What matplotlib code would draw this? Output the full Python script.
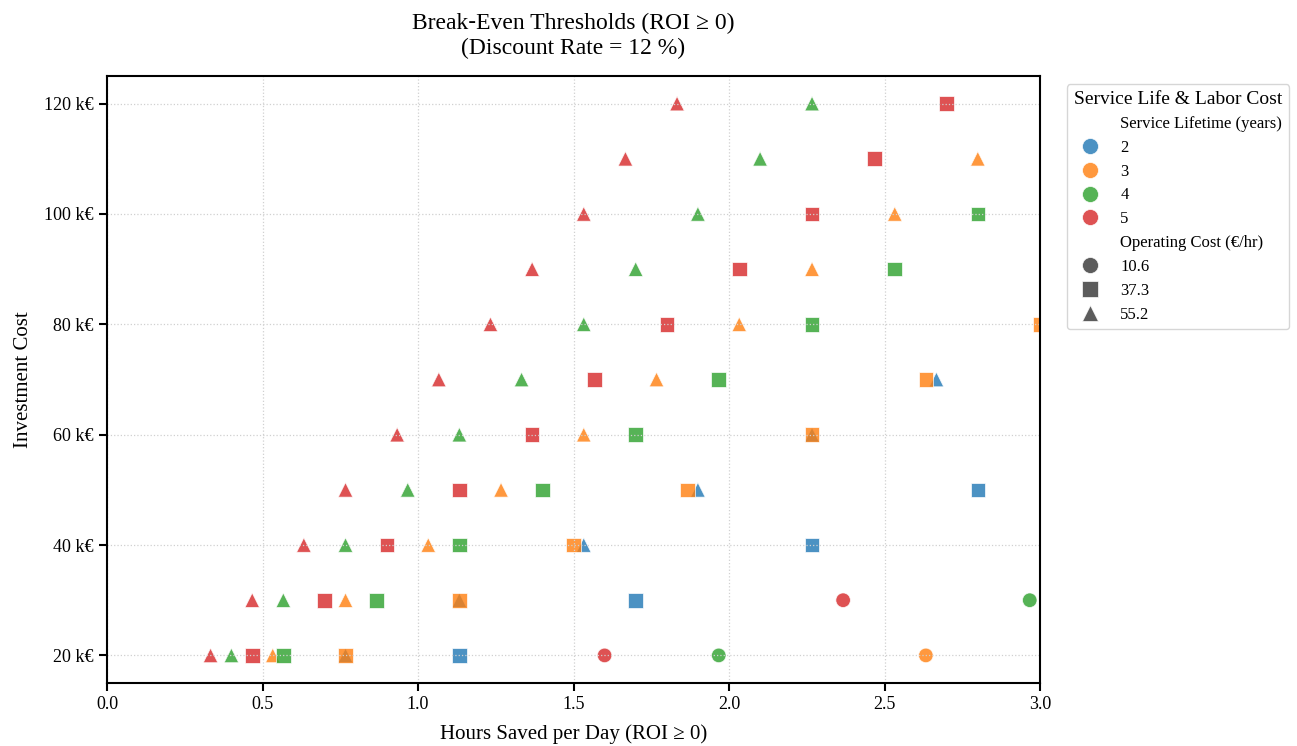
import matplotlib
matplotlib.use("Agg")
import matplotlib.pyplot as plt
import seaborn as sns
import pandas as pd

# ---- data ----
investments = [20, 30, 40, 50, 60, 70, 80, 90, 100, 110, 120]  # k€
lifetimes = [2, 3, 4, 5]
op_costs = [10.6, 37.3, 55.2]

# break-even hours per day, for each (lifetime, cost) pair, aligned with investments
# (None = beyond the plotted range)
hours = {
    (2, 10.6): [None] * 11,
    (2, 37.3): [1.133, 1.700, 2.267, 2.800, None, None, None, None, None, None, None],
    (2, 55.2): [0.767, 1.133, 1.533, 1.900, 2.267, 2.667, None, None, None, None, None],
    (3, 10.6): [2.633, None, None, None, None, None, None, None, None, None, None],
    (3, 37.3): [0.767, 1.133, 1.500, 1.867, 2.267, 2.633, 3.000, None, None, None, None],
    (3, 55.2): [0.533, 0.767, 1.033, 1.267, 1.533, 1.767, 2.033, 2.267, 2.533, 2.800, None],
    (4, 10.6): [1.967, 2.967, None, None, None, None, None, None, None, None, None],
    (4, 37.3): [0.567, 0.867, 1.133, 1.400, 1.700, 1.967, 2.267, 2.533, 2.800, None, None],
    (4, 55.2): [0.400, 0.567, 0.767, 0.967, 1.133, 1.333, 1.533, 1.700, 1.900, 2.100, 2.267],
    (5, 10.6): [1.600, 2.367, None, None, None, None, None, None, None, None, None],
    (5, 37.3): [0.467, 0.700, 0.900, 1.133, 1.367, 1.567, 1.800, 2.033, 2.267, 2.467, 2.700],
    (5, 55.2): [0.333, 0.467, 0.633, 0.767, 0.933, 1.067, 1.233, 1.367, 1.533, 1.667, 1.833],
}

x_ticks = [0.0, 0.5, 1.0, 1.5, 2.0, 2.5, 3.0]
y_ticks = [20, 40, 60, 80, 100, 120]
y_tick_labels = ["20 k€", "40 k€", "60 k€", "80 k€", "100 k€", "120 k€"]

rows = []
for life in lifetimes:
    for cost in op_costs:
        for inv, h in zip(investments, hours[(life, cost)]):
            if h is not None:
                rows.append({"Hours": h, "Investment": inv,
                             "Service Lifetime (years)": life,
                             "Operating Cost (€/hr)": cost})
df = pd.DataFrame(rows)

plt.rcParams["font.family"] = ["Liberation Serif", "DejaVu Serif"]

fig = plt.figure(figsize=(12.97, 7.46), dpi=100)
ax = fig.add_axes([107 / 1297, 1 - 683 / 746, (1040 - 107) / 1297, (683 - 76) / 746])

palette = {2: "#1f77b4", 3: "#ff7f0e", 4: "#2ca02c", 5: "#d62728"}
sns.scatterplot(data=df, x="Hours", y="Investment",
                hue="Service Lifetime (years)", style="Operating Cost (€/hr)",
                palette=palette, markers=["o", "s", "^"], s=110, alpha=0.8,
                edgecolor="white", linewidth=0.6, ax=ax)

ax.set_xlim(0, 3.0)
ax.set_xticks(x_ticks)
ax.set_xticklabels([f"{t:.1f}" for t in x_ticks], fontsize=13)
ax.set_yticks(y_ticks)
ax.set_yticklabels(y_tick_labels, fontsize=13)
ax.grid(True, linestyle=":", color="#d0d0d0", linewidth=0.9)
for sp in ax.spines.values():
    sp.set_linewidth(1.5)
    sp.set_color("black")
ax.tick_params(axis="both", width=1.5, length=6)

ax.set_xlabel("Hours Saved per Day (ROI ≥ 0)", fontsize=15, labelpad=8)
ax.set_ylabel("Investment Cost", fontsize=15, labelpad=8)
ax.set_title("Break‑Even Thresholds (ROI ≥ 0)\n(Discount Rate = 12 %)", fontsize=17,
             pad=16, linespacing=1.2)

leg = ax.legend(loc="upper left", bbox_to_anchor=(1.02, 1.0),
                title="Service Life & Labor Cost", fontsize=12, title_fontsize=14,
                frameon=True, borderaxespad=0.5, markerscale=1.1, labelspacing=0.47)
leg.get_frame().set_edgecolor("#cccccc")

fig.savefig("out.png", dpi=100)
